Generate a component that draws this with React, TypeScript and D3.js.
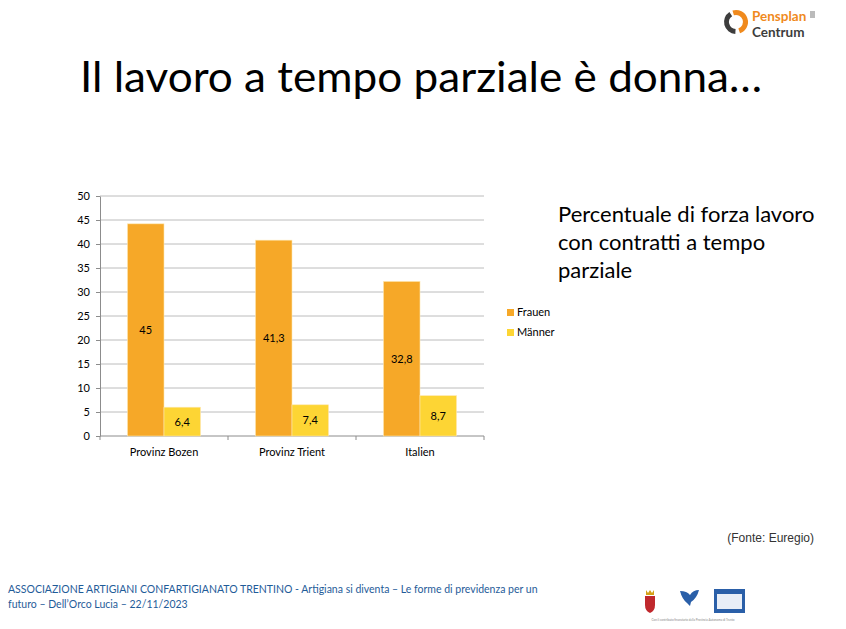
import React, { useEffect, useRef } from 'react';
import * as d3 from 'd3';

const categories = ['Provinz Bozen', 'Provinz Trient', 'Italien'];
const seriesNames = ['Frauen', 'Männer'];
// bar heights as drawn in the picture
const frauenValues = [44.2, 40.8, 32.2];
const maennerValues = [6.0, 6.5, 8.4];
// printed data labels
const frauenLabels = ['45', '41,3', '32,8'];
const maennerLabels = ['6,4', '7,4', '8,7'];
const yMax = 50;

const subtitleLines = ['Percentuale di forza lavoro', 'con contratti a tempo', 'parziale'];
const footerLines = [
  'ASSOCIAZIONE ARTIGIANI CONFARTIGIANATO TRENTINO - Artigiana si diventa – Le forme di previdenza per un',
  'futuro – Dell’Orco Lucia – 22/11/2023',
];

const colors = ['#F6A828', '#FDD534'];
const FONT = 'Lato, "Open Sans", sans-serif';

const App = () => {
  const svgRef = useRef<SVGSVGElement>(null);
  const totalWidth = 846;
  const totalHeight = 629;
  const plot = { left: 100, right: 484, top: 196, bottom: 436 };

  useEffect(() => {
    d3.select(svgRef.current).selectAll('*').remove();
    const svg = d3.select(svgRef.current);

    svg.append('rect').attr('width', totalWidth).attr('height', totalHeight).attr('fill', '#fff');

    // title
    svg.append('text')
      .attr('x', 80).attr('y', 92)
      .attr('font-family', FONT).attr('font-size', 42)
      .attr('fill', '#000')
      .attr('textLength', 682).attr('lengthAdjust', 'spacingAndGlyphs')
      .text('Il lavoro a tempo parziale è donna…');

    const x = d3.scaleBand().domain(categories).range([plot.left, plot.right]).padding(0);
    const xInner = d3.scaleBand().domain(seriesNames).range([0, x.bandwidth()]).paddingInner(0).paddingOuter(0.753);
    const y = d3.scaleLinear().domain([0, yMax]).range([plot.bottom, plot.top]);

    // gridlines
    const yTicks = y.ticks(10);
    svg.append('g')
      .selectAll('line')
      .data(yTicks.filter(t => t > 0))
      .enter().append('line')
        .attr('x1', plot.left).attr('x2', plot.right)
        .attr('y1', d => y(d)).attr('y2', d => y(d))
        .attr('stroke', '#bcbcbc').attr('stroke-width', 1);

    // y axis
    const yAxis = svg.append('g').attr('transform', `translate(${plot.left},0)`)
      .call(d3.axisLeft(y).tickValues(yTicks).tickSize(4).tickPadding(6).tickSizeOuter(0));
    yAxis.select('.domain').attr('stroke', '#8c8c8c');
    yAxis.selectAll('line').attr('stroke', '#8c8c8c');
    yAxis.selectAll('text').attr('font-family', FONT).attr('font-size', 11).attr('fill', '#000');

    // x axis
    const xAxisG = svg.append('g');
    xAxisG.append('line')
      .attr('x1', plot.left).attr('x2', plot.right)
      .attr('y1', plot.bottom).attr('y2', plot.bottom)
      .attr('stroke', '#8c8c8c');
    const boundaries = [...categories.map(c => x(c) as number), plot.right];
    xAxisG.selectAll('line.tick')
      .data(boundaries)
      .enter().append('line')
        .attr('class', 'tick')
        .attr('x1', d => d).attr('x2', d => d)
        .attr('y1', plot.bottom).attr('y2', plot.bottom + 4)
        .attr('stroke', '#8c8c8c');
    xAxisG.selectAll('text')
      .data(categories)
      .enter().append('text')
        .attr('x', d => (x(d) as number) + x.bandwidth() / 2)
        .attr('y', 456)
        .attr('text-anchor', 'middle')
        .attr('font-family', FONT).attr('font-size', 11)
        .attr('fill', '#000')
        .text(d => d);

    // bars
    const seriesData = [
      { key: seriesNames[0], values: frauenValues, labels: frauenLabels },
      { key: seriesNames[1], values: maennerValues, labels: maennerLabels },
    ];
    seriesData.forEach((s, si) => {
      const g = svg.append('g').attr('fill', colors[si]);
      g.selectAll('rect')
        .data(s.values)
        .enter().append('rect')
          .attr('x', (d, i) => (x(categories[i]) as number) + (xInner(s.key) as number))
          .attr('y', d => y(d))
          .attr('width', xInner.bandwidth())
          .attr('height', d => y(0) - y(d))
          .attr('stroke', '#fde7b0').attr('stroke-width', 0.6);
      svg.append('g').selectAll('text')
        .data(s.values)
        .enter().append('text')
          .attr('x', (d, i) => (x(categories[i]) as number) + (xInner(s.key) as number) + xInner.bandwidth() / 2)
          .attr('y', d => (y(d) + y(0)) / 2 + 4)
          .attr('text-anchor', 'middle')
          .attr('font-family', FONT).attr('font-size', 11)
          .attr('fill', '#000')
          .text((d, i) => s.labels[i]);
    });

    // legend
    const legend = svg.append('g');
    seriesNames.forEach((name, i) => {
      legend.append('rect')
        .attr('x', 507).attr('y', 309 + i * 20)
        .attr('width', 7).attr('height', 7)
        .attr('fill', colors[i]);
      legend.append('text')
        .attr('x', 517).attr('y', 316 + i * 20)
        .attr('font-family', FONT).attr('font-size', 11)
        .attr('fill', '#000')
        .text(name);
    });

    // side subtitle
    subtitleLines.forEach((line, i) => {
      svg.append('text')
        .attr('x', 558).attr('y', 222 + i * 28)
        .attr('font-family', FONT).attr('font-size', 22)
        .attr('fill', '#000')
        .text(line);
    });

    // source
    svg.append('text')
      .attr('x', 814).attr('y', 542)
      .attr('text-anchor', 'end')
      .attr('font-family', '"Liberation Sans", Arial, sans-serif').attr('font-size', 12)
      .attr('fill', '#333')
      .text('(Fonte: Euregio)');

    // footer
    footerLines.forEach((line, i) => {
      svg.append('text')
        .attr('x', 8).attr('y', 593 + i * 15)
        .attr('font-family', FONT).attr('font-size', 10.5)
        .attr('fill', '#1f5c99')
        .text(line);
    });

    // Pensplan logo
    const logo = svg.append('g');
    const arc = d3.arc();
    logo.append('path')
      .attr('transform', 'translate(736,22)')
      .attr('d', arc({ innerRadius: 7, outerRadius: 12, startAngle: -0.3, endAngle: 2.8 }) as string)
      .attr('fill', '#F08A1D');
    logo.append('path')
      .attr('transform', 'translate(736,22)')
      .attr('d', arc({ innerRadius: 7, outerRadius: 12, startAngle: 3.2, endAngle: 5.7 }) as string)
      .attr('fill', '#3d3d3d');
    logo.append('text')
      .attr('x', 752).attr('y', 21)
      .attr('font-family', FONT).attr('font-size', 13.5).attr('font-weight', 700)
      .attr('fill', '#F08A1D')
      .text('Pensplan');
    logo.append('text')
      .attr('x', 752).attr('y', 37)
      .attr('font-family', FONT).attr('font-size', 13.5).attr('font-weight', 700)
      .attr('fill', '#3d3d3d')
      .text('Centrum');
    logo.append('rect').attr('x', 810).attr('y', 11).attr('width', 5).attr('height', 7).attr('fill', '#bbb');

    // footer logos
    const fl = svg.append('g');
    fl.append('path').attr('d', 'M645,596 h10 v9 q0,6 -5,8 q-5,-2 -5,-8 z').attr('fill', '#c0282d');
    fl.append('path').attr('d', 'M646,590 l2,3 l2,-3 l2,3 l2,-3 v5 h-8 z').attr('fill', '#d4a017');
    fl.append('path').attr('d', 'M680,591 q7,0 10,4 q3,-5 9,-5 q-2,8 -8,12 l-1,4 l-3,-3 q-5,-4 -7,-12 z').attr('fill', '#2a5fa8');
    fl.append('rect').attr('x', 714).attr('y', 589).attr('width', 31).attr('height', 24).attr('fill', '#2a5fa8');
    fl.append('rect').attr('x', 717).attr('y', 594).attr('width', 25).attr('height', 15).attr('fill', '#e8eef7');
    fl.append('text')
      .attr('x', 693).attr('y', 621).attr('text-anchor', 'middle')
      .attr('font-family', FONT).attr('font-size', 3).attr('fill', '#888')
      .text('Con il contributo finanziario della Provincia Autonoma di Trento');
  }, []);

  return (
    <svg
      ref={svgRef}
      width={totalWidth}
      height={totalHeight}
      style={{ position: 'absolute', left: 0, top: 0 }}
    />
  );
};

export default App;
